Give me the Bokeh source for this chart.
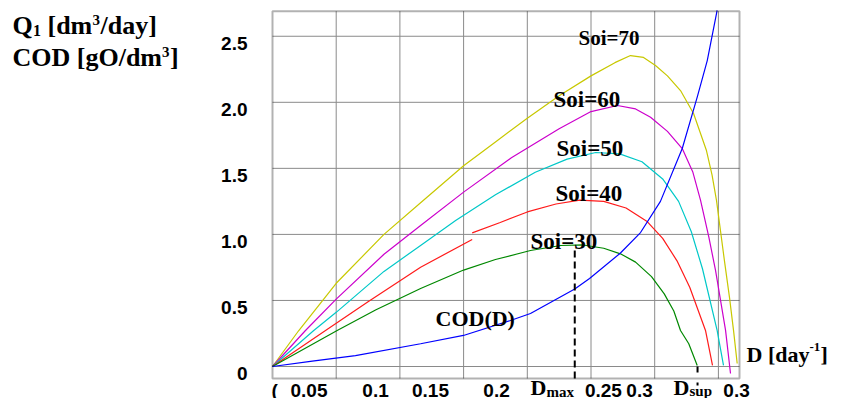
from bokeh.plotting import figure
from bokeh.models import Range1d, Label, BoxAnnotation
from bokeh.core.properties import value
from bokeh.embed import file_html
from bokeh.resources import INLINE

# ---------------- data ----------------
d_soi70 = [0, 0.0165, 0.04, 0.07, 0.093, 0.12, 0.14, 0.16, 0.18, 0.20, 0.215, 0.2248, 0.233, 0.2405,
           0.248, 0.2562, 0.2644, 0.2725, 0.276, 0.2788, 0.2838, 0.287, 0.2895, 0.2918]
q_soi70 = [0, 0.2725, 0.63, 1.00, 1.24, 1.52, 1.70, 1.88, 2.05, 2.20, 2.30, 2.354, 2.34, 2.279,
           2.20, 2.089, 1.915, 1.635, 1.45, 1.257, 0.80, 0.52, 0.273, 0.023]

d_soi60 = [0, 0.0207, 0.04, 0.07, 0.093, 0.12, 0.15, 0.18, 0.20, 0.2166, 0.228, 0.2374, 0.248,
           0.2573, 0.264, 0.2688, 0.274, 0.2782, 0.2845, 0.2876]
q_soi60 = [0, 0.2725, 0.51, 0.85, 1.067, 1.32, 1.58, 1.80, 1.93, 1.976, 1.95, 1.887, 1.78,
           1.65, 1.47, 1.257, 0.98, 0.727, 0.273, -0.053]

d_soi50 = [0, 0.0259, 0.04, 0.07, 0.093, 0.115, 0.14, 0.165, 0.185, 0.203, 0.218, 0.232, 0.245,
           0.255, 0.263, 0.27, 0.2792, 0.2832]
q_soi50 = [0, 0.2725, 0.41, 0.72, 0.916, 1.105, 1.30, 1.47, 1.57, 1.62, 1.61, 1.55, 1.42,
           1.25, 1.02, 0.74, 0.273, 0.008]

d_soi40_a = [0, 0.0333, 0.06, 0.093, 0.1254]
q_soi40_a = [0, 0.2725, 0.49, 0.752, 0.961]
d_soi40_b = [0.1254, 0.143, 0.16, 0.178, 0.193, 0.208, 0.222, 0.235, 0.245, 0.254, 0.262, 0.2719, 0.2763]
q_soi40_b = [1.012, 1.09, 1.17, 1.23, 1.26, 1.25, 1.20, 1.10, 0.97, 0.80, 0.60, 0.273, 0.008]

d_soi30 = [0, 0.0406, 0.065, 0.093, 0.12, 0.14, 0.162, 0.181, 0.195, 0.208, 0.2185, 0.228, 0.238,
           0.246, 0.252, 0.2562, 0.2614, 0.2667]
q_soi30 = [0, 0.2725, 0.43, 0.59, 0.73, 0.81, 0.878, 0.916, 0.92, 0.895, 0.853, 0.79, 0.68,
           0.55, 0.42, 0.2725, 0.172, 0.008]

d_cod = [0, 0.025, 0.0521, 0.093, 0.1199, 0.1494, 0.162, 0.1898, 0.1991, 0.2185, 0.2311, 0.2436,
         0.2573, 0.2667, 0.273, 0.2792]
cod = [0, 0.04, 0.083, 0.172, 0.235, 0.348, 0.401, 0.587, 0.666, 0.859, 1.014, 1.25,
       1.65, 2.039, 2.316, 2.695]

d_max = 0.1898
d_max_top = 0.905
d_sup = 0.2669

y_tick_values = [0, 0.5, 1.0, 1.5, 2.0, 2.5]
y_tick_labels = ["0", "0.5", "1.0", "1.5", "2.0", "2.5"]
x_grid_values = [0.04, 0.08, 0.12, 0.16, 0.20, 0.24, 0.28]
x_tick_positions = [0.0013, 0.0229, 0.0647, 0.0992, 0.1407, 0.2078, 0.2305, 0.2914]
x_tick_labels = ["(", "0.05", "0.1", "0.15", "0.2", "0.25", "0.3", "0.3"]

curve_labels = ["Soi=70", "Soi=60", "Soi=50", "Soi=40", "Soi=30", "COD(D)"]

# ---------------- layout ----------------
# picture pixel -> data helpers (the figure's frame fills the whole canvas)
X0_PX, PX_PER_X = 272.0, 1592.5
Y0_PX, PX_PER_Y = 366.0, 132.1


def px2x(px):
    return (px - X0_PX) / PX_PER_X


def px2y(py):
    return (Y0_PX - py) / PX_PER_Y


W, H = 829, 398
BOX_LEFT, BOX_RIGHT = 0.0, px2x(739)
BOX_BOTTOM, BOX_TOP = px2y(378), px2y(10.7)

SERIF = "Liberation Serif"
SANS = "Liberation Sans"

p = figure(width=W, height=H, output_backend="svg", toolbar_location=None,
           x_axis_type=None, y_axis_type=None,
           x_range=Range1d(px2x(0), px2x(W)), y_range=Range1d(px2y(H), px2y(0)),
           min_border=0, min_border_left=0, min_border_right=0,
           min_border_top=0, min_border_bottom=0)
p.outline_line_color = None
p.background_fill_color = "white"
p.border_fill_color = "white"

# grid lines (vertical every 0.04, horizontal at the y ticks)
GRID = "#8a8a8a"
p.segment(x0=x_grid_values, y0=[BOX_BOTTOM] * len(x_grid_values),
          x1=x_grid_values, y1=[BOX_TOP] * len(x_grid_values),
          line_color=GRID, line_width=1)
p.segment(x0=[BOX_LEFT] * len(y_tick_values), y0=y_tick_values,
          x1=[BOX_RIGHT] * len(y_tick_values), y1=y_tick_values,
          line_color=GRID, line_width=1)

# plot box
p.add_layout(BoxAnnotation(left=BOX_LEFT, right=BOX_RIGHT, bottom=BOX_BOTTOM, top=BOX_TOP,
                           fill_color=None, line_color="black", line_width=2))

# tick labels (vertically centred)
Y_LABEL_DROP = 7 / PX_PER_Y
p.text(x=[px2x(247)] * len(y_tick_values), y=[v - Y_LABEL_DROP for v in y_tick_values],
       text=y_tick_labels, text_font=value(SANS), text_font_size=value("19px"),
       text_font_style="bold", text_color="black", text_align="right",
       text_baseline="middle")
p.text(x=x_tick_positions, y=[px2y(389.5)] * len(x_tick_positions),
       text=x_tick_labels, text_font=value(SANS), text_font_size=value("19px"),
       text_font_style="bold", text_color="black", text_align="center",
       text_baseline="middle")

# curves
LW = 1.2
p.line(d_soi70, q_soi70, line_color="#c8c800", line_width=LW)
p.line(d_soi60, q_soi60, line_color="#cc00cc", line_width=LW)
p.line(d_soi50, q_soi50, line_color="#00c8c8", line_width=LW)
p.line(d_soi40_a, q_soi40_a, line_color="#ff1a1a", line_width=LW)
p.line(d_soi40_b, q_soi40_b, line_color="#ff1a1a", line_width=LW)
p.line(d_soi30, q_soi30, line_color="#008800", line_width=LW)
p.line(d_cod, cod, line_color="#0000ff", line_width=LW)

# D_max and D_sup markers
p.segment(x0=[d_max], y0=[BOX_BOTTOM], x1=[d_max], y1=[d_max_top],
          line_color="black", line_width=2, line_dash="7 4")
p.segment(x0=[d_sup], y0=[0], x1=[d_sup], y1=[px2y(385)],
          line_color="black", line_width=2, line_dash="6 10")


def add_text(px, py, text, size, font=SERIF):
    """py is the vertical centre of the text, in picture pixels."""
    p.add_layout(Label(x=px2x(px), y=px2y(py), text=text, text_font=font,
                       text_font_size=f"{size}px", text_font_style="bold",
                       text_color="black", text_align="left", text_baseline="middle"))


# curve labels
add_text(578, 37, curve_labels[0], 21)
add_text(553, 99, curve_labels[1], 23)
add_text(556, 148, curve_labels[2], 23)
add_text(555, 193, curve_labels[3], 23)
add_text(530, 240.5, curve_labels[4], 23)
add_text(435, 318, curve_labels[5], 22)

# y axis title (two lines)
add_text(12, 25, "Q", 26)
add_text(32.5, 30, "1", 16)
add_text(47, 25, "[dm", 26)
add_text(92, 19.5, "3", 15)
add_text(100, 25, "/day]", 26)
add_text(12, 57, "COD [gO/dm", 26)
add_text(161.5, 51, "3", 15)
add_text(169.5, 57, "]", 26)

# x axis title
add_text(746, 354, "D [day", 22)
add_text(809, 346, "-1", 13)
add_text(820, 354, "]", 22)

# D_max / D_sup labels under the axis
add_text(530, 386.5, "D", 22)
add_text(546, 391, "max", 15)
add_text(673, 386.5, "D", 22)
add_text(689, 390, "sup", 15)

open("out.html", "w").write(file_html(p, INLINE))
